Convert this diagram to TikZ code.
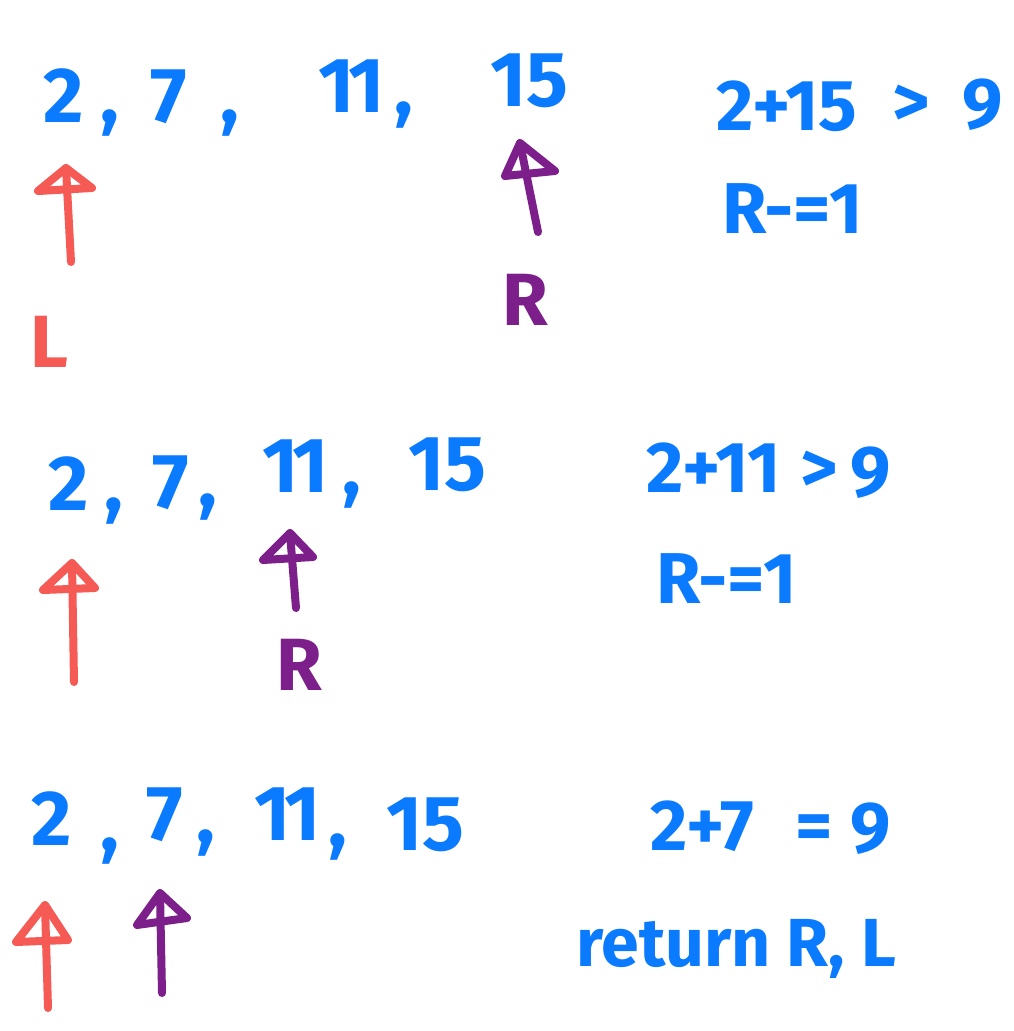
\documentclass[tikz,border=0pt]{standalone}
\usepackage{fontspec}
\setmainfont{Fira Sans}[BoldFont={* Bold}]
\definecolor{inkblue}{HTML}{0A7AFF}
\definecolor{inkred}{HTML}{F55A55}
\definecolor{inkpurple}{HTML}{7D1F8A}
\tikzset{
  num/.style={text=inkblue, inner sep=0pt, anchor=base west, font=\bfseries\fontsize{78}{86}\selectfont},
  eq/.style={text=inkblue, inner sep=0pt, anchor=base west, font=\bfseries\fontsize{72}{80}\selectfont},
  lbl/.style={inner sep=0pt, anchor=base west, font=\bfseries\fontsize{74}{82}\selectfont},
  pen/.style={line width=8pt, line cap=round, line join=round},
  redpen/.style={pen, draw=inkred},
  purpen/.style={pen, draw=inkpurple}
}
\newcommand{\eleven}{1\kern-6pt1}
\begin{document}
\begin{tikzpicture}[x=1pt,y=-1pt]
\useasboundingbox (0,0) rectangle (1013,1031);
\fill[white] (0,0) rectangle (1013,1031);
% ---------- row 1 ----------
\node[num] (a1) at (43,122) {2};
\node[num] (a1c) at (100,122) {,};
\node[num] (a2) at (150,122) {7};
\node[num] (a2c) at (220,122) {,};
\node[num] (a3) at (318,112) {\eleven};
\node[num] (a3c) at (394,114) {,};
\node[num] (a4) at (490,106) {15};
\node[eq] (e1a) at (716,130) {2+15};
\node[eq] (e1b) at (892,126) {>};
\node[eq] (e1c) at (962,128) {9};
\node[eq] (e1d) at (722,233) {R-=1};
\coordinate (r1t) at (66,168);
\coordinate (r1l) at (38,191);
\coordinate (r1r) at (92,188);
\coordinate (r1b) at (71,262);
\draw[redpen] (r1b) -- (r1t);
\draw[redpen] (r1t) -- (r1l) -- (r1r) -- cycle;
\node[lbl, text=inkred] (L1) at (30,367) {L};
\coordinate (p1t) at (520,143);
\coordinate (p1l) at (505,176);
\coordinate (p1r) at (555,171);
\coordinate (p1b) at (538,232);
\draw[purpen] (p1b) -- (p1t);
\draw[purpen] (p1t) -- (p1l) -- (p1r) -- cycle;
\node[lbl, text=inkpurple] (R1) at (502,325) {R};
% ---------- row 2 ----------
\node[num] (b1) at (48,510) {2};
\node[num] (b1c) at (104,510) {,};
\node[num] (b2) at (152,508) {7};
\node[num] (b2c) at (198,506) {,};
\node[num] (b3) at (262,492) {\eleven};
\node[num] (b3c) at (342,494) {,};
\node[num] (b4) at (408,490) {15};
\node[eq] (e2a) at (646,492) {2+11};
\node[eq] (e2b) at (800,492) {>};
\node[eq] (e2c) at (850,496) {9};
\node[eq] (e2d) at (656,603) {R-=1};
\coordinate (r2t) at (72,563);
\coordinate (r2l) at (43,590);
\coordinate (r2r) at (95,588);
\coordinate (r2b) at (74,682);
\draw[redpen] (r2b) -- (r2t);
\draw[redpen] (r2t) -- (r2l) -- (r2r) -- cycle;
\coordinate (p2t) at (290,533);
\coordinate (p2l) at (263,560);
\coordinate (p2r) at (313,557);
\coordinate (p2b) at (296,608);
\draw[purpen] (p2b) -- (p2t);
\draw[purpen] (p2t) -- (p2l) -- (p2r) -- cycle;
\node[lbl, text=inkpurple] (R2) at (276,690) {R};
% ---------- row 3 ----------
\node[num] (c1) at (31,845) {2};
\node[num] (c1c) at (100,850) {,};
\node[num] (c2) at (146,840) {7};
\node[num] (c2c) at (196,842) {,};
\node[num] (c3) at (254,840) {\eleven};
\node[num] (c3c) at (328,846) {,};
\node[num] (c4) at (386,850) {15};
\node[eq] (e3a) at (650,850) {2+7};
\node[eq] (e3b) at (795,850) {=};
\node[eq] (e3c) at (850,852) {9};
\node[eq, font=\bfseries\fontsize{68}{76}\selectfont] (e3d) at (576,966) {return R, L};
\coordinate (r3t) at (45,905);
\coordinate (r3l) at (16,942);
\coordinate (r3r) at (68,940);
\coordinate (r3b) at (48,1008);
\draw[redpen] (r3b) -- (r3t);
\draw[redpen] (r3t) -- (r3l) -- (r3r) -- cycle;
\coordinate (p3t) at (160,893);
\coordinate (p3l) at (137,925);
\coordinate (p3r) at (187,918);
\coordinate (p3b) at (162,993);
\draw[purpen] (p3b) -- (p3t);
\draw[purpen] (p3t) -- (p3l) -- (p3r) -- cycle;
\end{tikzpicture}
\end{document}
